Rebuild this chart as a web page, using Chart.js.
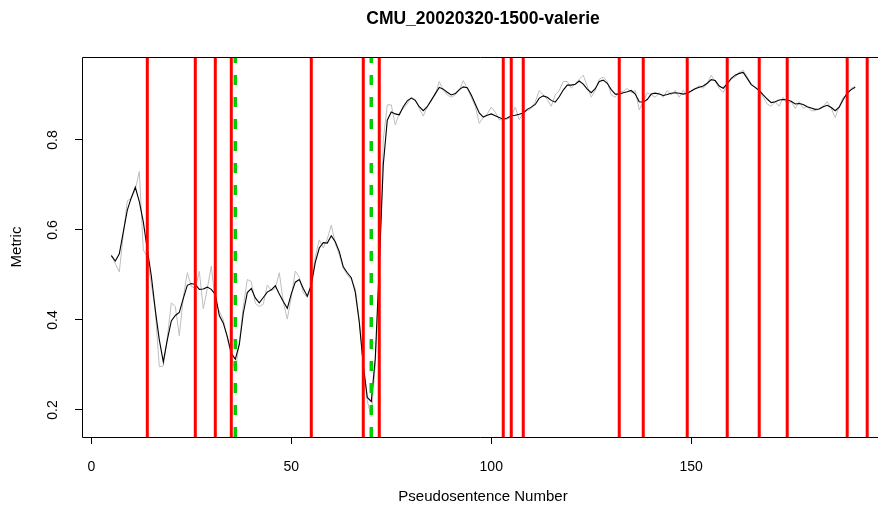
<!DOCTYPE html>
<html><head><meta charset="utf-8">
<script src="https://cdn.jsdelivr.net/npm/chart.js@4/dist/chart.umd.min.js"></script>
<style>html,body{margin:0;padding:0;background:#fff;overflow:hidden}canvas{display:block}</style>
</head><body>
<div style="width:878px;height:514px"><canvas id="c" width="878" height="514"></canvas></div>
<script>
const chartTitle = "CMU_20020320-1500-valerie";
const xAxisTitle = "Pseudosentence Number";
const yAxisTitle = "Metric";
const xTickValues = [0, 50, 100, 150];
const yTickValues = [0.2, 0.4, 0.6, 0.8];
const firstSentence = 5;
// smoothed metric (black), sentences 5..191
const smoothed = [
0.543,0.531,0.547,0.596,0.644,0.672,0.695,0.663,0.618,0.556,
0.498,0.422,0.356,0.307,0.356,0.398,0.410,0.417,0.448,0.477,
0.481,0.479,0.468,0.469,0.473,0.468,0.457,0.410,0.393,0.363,
0.326,0.313,0.345,0.415,0.461,0.470,0.449,0.438,0.450,0.462,
0.467,0.476,0.458,0.441,0.426,0.458,0.484,0.490,0.470,0.453,
0.478,0.528,0.560,0.572,0.571,0.587,0.574,0.552,0.518,0.505,
0.494,0.462,0.395,0.300,0.228,0.219,0.315,0.520,0.745,0.844,
0.862,0.858,0.856,0.874,0.887,0.893,0.888,0.874,0.865,0.874,
0.888,0.903,0.917,0.913,0.906,0.900,0.903,0.912,0.918,0.916,
0.900,0.880,0.860,0.851,0.855,0.858,0.854,0.850,0.846,0.849,
0.854,0.855,0.857,0.860,0.868,0.873,0.879,0.893,0.898,0.895,
0.888,0.884,0.896,0.911,0.922,0.922,0.924,0.931,0.924,0.913,
0.905,0.914,0.930,0.933,0.926,0.912,0.902,0.902,0.905,0.907,
0.910,0.902,0.885,0.884,0.890,0.902,0.904,0.902,0.899,0.901,
0.904,0.905,0.904,0.902,0.904,0.909,0.914,0.917,0.920,0.926,
0.934,0.932,0.920,0.915,0.925,0.937,0.944,0.948,0.950,0.937,
0.923,0.917,0.910,0.900,0.891,0.883,0.885,0.889,0.890,0.889,
0.886,0.880,0.881,0.879,0.874,0.871,0.868,0.869,0.874,0.877,
0.872,0.865,0.873,0.890,0.904,0.912,0.917
];
// raw metric (grey), sentences 5..191
const raw = [
0.545,0.525,0.507,0.590,0.665,0.670,0.690,0.730,0.556,0.540,
0.480,0.420,0.296,0.298,0.360,0.438,0.430,0.365,0.450,0.505,
0.475,0.470,0.508,0.425,0.470,0.520,0.440,0.420,0.400,0.360,
0.320,0.285,0.350,0.430,0.490,0.485,0.437,0.430,0.435,0.478,
0.465,0.470,0.505,0.440,0.402,0.450,0.509,0.495,0.460,0.450,
0.480,0.540,0.578,0.560,0.580,0.611,0.570,0.545,0.515,0.500,
0.490,0.470,0.400,0.300,0.220,0.185,0.300,0.500,0.800,0.878,
0.878,0.833,0.860,0.870,0.880,0.895,0.890,0.870,0.853,0.875,
0.890,0.900,0.930,0.910,0.900,0.895,0.900,0.910,0.932,0.915,
0.895,0.875,0.837,0.850,0.858,0.873,0.862,0.845,0.845,0.846,
0.852,0.873,0.845,0.860,0.865,0.870,0.885,0.910,0.900,0.890,
0.875,0.900,0.910,0.930,0.930,0.915,0.925,0.935,0.944,0.920,
0.895,0.910,0.935,0.940,0.930,0.900,0.895,0.908,0.908,0.915,
0.905,0.910,0.867,0.885,0.905,0.900,0.895,0.905,0.895,0.910,
0.900,0.910,0.895,0.910,0.900,0.910,0.915,0.920,0.915,0.925,
0.944,0.930,0.915,0.905,0.925,0.935,0.940,0.950,0.955,0.940,
0.925,0.915,0.910,0.895,0.880,0.875,0.885,0.875,0.895,0.880,
0.885,0.870,0.885,0.870,0.875,0.865,0.865,0.870,0.875,0.885,
0.870,0.850,0.875,0.895,0.900,0.915,0.920
];
const redBoundaries = [14, 26, 31, 35, 55, 68, 72, 103, 105, 108, 132, 138, 149, 159, 167, 174, 189, 194];
const greenBoundaries = [36, 70];

const X_MIN = -2.33, X_MAX = 196.7, Y_MIN = 0.14, Y_MAX = 0.9844;
const FONT = '"Liberation Sans", Arial, Helvetica, sans-serif';

const toPts = arr => arr.map((v, i) => ({x: firstSentence + i, y: v}));
const vline = (b, color, width, dash, order) => ({
  data: [{x: b, y: Y_MIN}, {x: b, y: Y_MAX}],
  borderColor: color, borderWidth: width, borderDash: dash || [],
  pointRadius: 0, fill: false, order: order, borderCapStyle: 'butt'
});

const datasets = [
  {label: 'raw', data: toPts(raw), borderColor: '#BEBEBE', borderWidth: 1, pointRadius: 0, tension: 0, order: 5},
  {label: 'smoothed', data: toPts(smoothed), borderColor: '#000000', borderWidth: 1.1, pointRadius: 0, tension: 0, order: 4},
  ...redBoundaries.map(b => vline(b, '#FF0000', 3, null, 3)),
  ...greenBoundaries.map(b => vline(b, '#00CD00', 3.5, [10, 12], 2))
];

const decor = {
  id: 'decor',
  afterDatasetsDraw(chart) {
    const {ctx, chartArea: a} = chart;
    ctx.save();
    ctx.strokeStyle = '#000'; ctx.lineWidth = 1;
    ctx.beginPath();
    ctx.moveTo(a.right + 20, a.top + 0.5); ctx.lineTo(a.left + 0.5, a.top + 0.5);
    ctx.lineTo(a.left + 0.5, a.bottom + 0.5); ctx.lineTo(a.right + 20, a.bottom + 0.5);
    ctx.stroke();
    ctx.restore();
  },
  afterDraw(chart) {
    const {ctx, chartArea: a, scales: {x, y}} = chart;
    ctx.save();
    ctx.fillStyle = '#000';
    ctx.textAlign = 'center'; ctx.textBaseline = 'middle';
    ctx.font = 'bold 17.5px ' + FONT;
    ctx.fillText(chartTitle, 483, 19);
    ctx.font = '14px ' + FONT;
    xTickValues.forEach(v => ctx.fillText(String(v), x.getPixelForValue(v), 467));
    yTickValues.forEach(v => {
      ctx.save();
      ctx.translate(53, y.getPixelForValue(v));
      ctx.rotate(-Math.PI / 2);
      ctx.fillText(v.toFixed(1), 0, 0);
      ctx.restore();
    });
    ctx.font = '15px ' + FONT;
    ctx.fillText(xAxisTitle, 483, 497);
    ctx.save();
    ctx.translate(17, (a.top + a.bottom) / 2);
    ctx.rotate(-Math.PI / 2);
    ctx.fillText(yAxisTitle, 0, 0);
    ctx.restore();
    ctx.restore();
  }
};

new Chart(document.getElementById('c').getContext('2d'), {
  type: 'line',
  data: {datasets},
  options: {
    animation: false, responsive: false, devicePixelRatio: 1,
    layout: {padding: {top: 57, right: 0, left: 0, bottom: 0}},
    plugins: {legend: {display: false}, tooltip: {enabled: false}, title: {display: false}},
    scales: {
      x: {
        type: 'linear', min: X_MIN, max: X_MAX,
        afterBuildTicks(s) { s.ticks = xTickValues.map(v => ({value: v})); },
        afterFit(s) { s.height = 77; },
        ticks: {display: false},
        grid: {display: true, drawOnChartArea: false, drawTicks: true, tickLength: 7, color: '#000', lineWidth: 1},
        border: {display: false}
      },
      y: {
        type: 'linear', min: Y_MIN, max: Y_MAX,
        afterBuildTicks(s) { s.ticks = yTickValues.map(v => ({value: v})); },
        afterFit(s) { s.width = 82; },
        ticks: {display: false},
        grid: {display: true, drawOnChartArea: false, drawTicks: true, tickLength: 7, color: '#000', lineWidth: 1},
        border: {display: false}
      }
    }
  },
  plugins: [decor]
});
</script>
</body></html>
